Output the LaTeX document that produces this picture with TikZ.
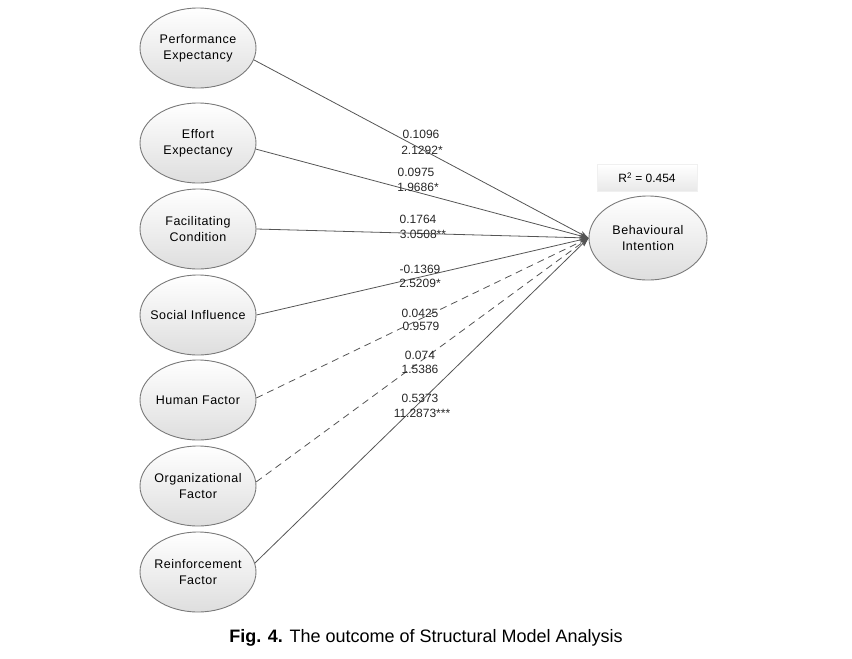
\documentclass[tikz,border=0pt]{standalone}
\usepackage{fontspec}
\setmainfont{Liberation Sans}
\usetikzlibrary{shapes.geometric,arrows.meta}
\definecolor{edgegray}{HTML}{555555}
\definecolor{bordergray}{HTML}{7A7A7A}
\begin{document}
\begin{tikzpicture}[x=1pt,y=-1pt,
  construct/.style={ellipse,draw=bordergray,line width=0.9pt,top color=white,bottom color=black!13,
    minimum width=116pt,minimum height=80pt,inner xsep=-9pt,inner ysep=0pt,align=center,
    font=\fontsize{12.5}{16}\selectfont\addfontfeatures{LetterSpace=4}},
  path/.style={draw=edgegray,line width=0.8pt,-{Stealth[length=9pt,width=6pt]}},
  dpath/.style={path,dash pattern=on 7pt off 5pt},
  coef/.style={font=\fontsize{12}{14}\selectfont,inner sep=0pt,text=black!85}]
\useasboundingbox (0,0) rectangle (852,659);

\node[construct] (pe) at (198,48) {Performance\\Expectancy};
\node[construct] (ee) at (198,143) {Effort\\Expectancy};
\node[construct] (fc) at (198,229) {Facilitating\\Condition};
\node[construct] (si) at (198,315) {Social Influence};
\node[construct] (hf) at (198,400) {Human Factor};
\node[construct] (of) at (198,486) {Organizational\\Factor};
\node[construct] (rf) at (198,572) {Reinforcement\\Factor};

\node[construct,minimum width=118pt,minimum height=84pt] (bi) at (648,238) {Behavioural\\Intention};

\node[rectangle,top color=white,bottom color=black!9,draw=black!6,minimum width=100pt,minimum height=27pt,
  font=\fontsize{12}{14}\selectfont] (r2) at (647,178) {R\textsuperscript{2} = 0.454};

\draw[path] (pe.-12) -- (bi.west);
\draw[path] (ee.-6) -- (bi.west);
\draw[path] (fc.0) -- (bi.west);
\draw[path] (si.0) -- (bi.west);
\draw[dpath] (hf.2) -- (bi.west);
\draw[dpath] (of.4) -- (bi.west);
\draw[path] (rf.9) -- (bi.west);

\node[coef] (c1a) at (421,134) {0.1096};
\node[coef] (c1b) at (422,150) {2.1292*};
\node[coef] (c2a) at (416,172) {0.0975};
\node[coef] (c2b) at (418,187) {1.9686*};
\node[coef] (c3a) at (418,219) {0.1764};
\node[coef] (c3b) at (423,234) {3.0508**};
\node[coef] (c4a) at (420,269) {-0.1369};
\node[coef] (c4b) at (420,283) {2.5209*};
\node[coef] (c5a) at (420,313) {0.0425};
\node[coef] (c5b) at (421,326) {0.9579};
\node[coef] (c6a) at (420,355) {0.074};
\node[coef] (c6b) at (420,369) {1.5386};
\node[coef] (c7a) at (420,398) {0.5373};
\node[coef] (c7b) at (422,413) {11.2873***};

\node[font=\fontsize{18}{21}\selectfont] (cap) at (426,638) {\textbf{Fig. 4.} The outcome of Structural Model Analysis};
\end{tikzpicture}
\end{document}
